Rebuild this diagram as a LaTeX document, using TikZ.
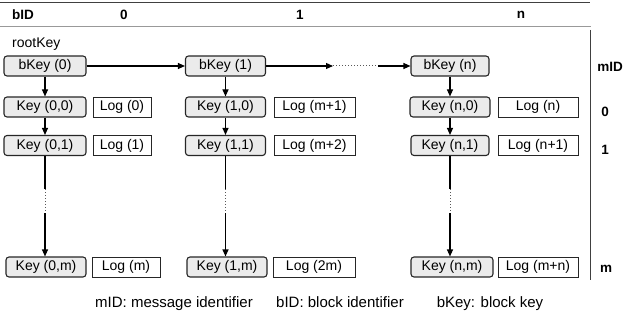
\documentclass[tikz,border=0pt]{standalone}
\usepackage{fontspec}
\setmainfont{Liberation Sans}
\usetikzlibrary{arrows.meta,calc}
\begin{document}
\begin{tikzpicture}[x=1pt,y=-1pt,
  keybox/.style={draw=black!85,line width=1.1pt,rounded corners=3pt,fill=black!8,minimum height=20pt,minimum width=80pt,inner sep=0pt,font=\fontsize{14}{16}\selectfont},
  logbox/.style={draw=black!85,line width=0.8pt,fill=white,minimum height=20pt,inner sep=0pt,font=\fontsize{14}{16}\selectfont},
  hdr/.style={font=\fontsize{13.5}{16}\selectfont\bfseries,inner sep=0pt},
  lbl/.style={font=\fontsize{14}{16}\selectfont,inner sep=0pt},
  legend/.style={font=\fontsize{15}{17}\selectfont,inner sep=0pt,anchor=base},
  arr/.style={line width=1.1pt,-{Triangle[length=7pt,width=6pt]}},
  ln/.style={line width=1.1pt},
  dotln/.style={line width=1pt,dotted,draw=black!65}]
\useasboundingbox (0,0) rectangle (624,326);
% header lines
\draw[draw=black!75,line width=1pt] (0,3) -- (590,3);
\draw[draw=black!40,line width=1pt] (0,27) -- (591,27);
\draw[draw=black!75,line width=1pt] (590,30) -- (590,280);
% header texts
\node[hdr,anchor=west] (hb) at (12,15) {bID};
\node[hdr] (h0) at (124,15) {0};
\node[hdr] (h1) at (300,15) {1};
\node[hdr] (hn) at (521,15) {n};
\node[lbl,anchor=west] (root) at (12,44) {rootKey};
% right labels
\node[hdr] (mid) at (610,67) {mID};
\node[hdr] (r0) at (605,112) {0};
\node[hdr] (r1) at (605,150) {1};
\node[hdr] (rm) at (606,269) {m};
% column 0
\node[keybox,minimum width=82pt] (bk0) at (45,66) {bKey (0)};
\node[keybox,minimum width=82pt] (k00) at (45,107) {Key (0,0)};
\node[keybox,minimum width=82pt] (k01) at (45,145.5) {Key (0,1)};
\node[keybox,minimum width=80pt] (k0m) at (46,267) {Key (0,m)};
\node[logbox,minimum width=58pt] (l00) at (122,107) {Log (0)};
\node[logbox,minimum width=58pt] (l01) at (122,145.5) {Log (1)};
\node[logbox,minimum width=68pt] (l0m) at (126,267) {Log (m)};
% column 1
\node[keybox] (bk1) at (225.5,66) {bKey (1)};
\node[keybox] (k10) at (225.5,107) {Key (1,0)};
\node[keybox] (k11) at (225.5,145.5) {Key (1,1)};
\node[keybox] (k1m) at (227,267) {Key (1,m)};
\node[logbox,minimum width=81pt] (l10) at (314.5,107) {Log (m+1)};
\node[logbox,minimum width=81pt] (l11) at (314.5,145.5) {Log (m+2)};
\node[logbox,minimum width=82pt] (l1m) at (314,267) {Log (2m)};
% column n
\node[keybox,minimum width=78pt] (bkn) at (450,66) {bKey (n)};
\node[keybox] (kn0) at (450,107) {Key (n,0)};
\node[keybox,minimum width=78pt] (kn1) at (450,145.5) {Key (n,1)};
\node[keybox,minimum width=82pt] (knm) at (452,267) {Key (n,m)};
\node[logbox,minimum width=80pt] (ln0) at (538,107) {Log (n)};
\node[logbox,minimum width=80pt] (ln1) at (538,145.5) {Log (n+1)};
\node[logbox,minimum width=80pt] (lnm) at (538,267) {Log (m+n)};
% horizontal chain
\draw[arr] (bk0) -- (bk1);
\coordinate (h1a) at (333,66);
\coordinate (h1b) at (378,66);
\draw[arr] (bk1.east) -- (h1a);
\draw[dotln] (h1a) -- (h1b);
\draw[arr] (h1b) -- (bkn.west);
% vertical chains
\foreach \c in {0,1,n}{
  \draw[arr] (bk\c) -- (k\c0);
  \draw[arr] (k\c0) -- (k\c1);
  \coordinate (v\c a) at ($(k\c1.south)+(0,33)$);
  \coordinate (v\c b) at ($(k\c1.south)+(0,57)$);
  \draw[ln] (k\c1.south) -- (v\c a);
  \draw[dotln] (v\c a) -- (v\c b);
  \draw[arr] (v\c b) -- (k\c m.north -| v\c b);
}
% legend
\node[legend] (lg1) at (174,307) {mID: message identifier};
\node[legend] (lg2) at (340,307) {bID: block identifier};
\node[legend] (lg3) at (490,307) {bKey: block key};
\end{tikzpicture}
\end{document}
